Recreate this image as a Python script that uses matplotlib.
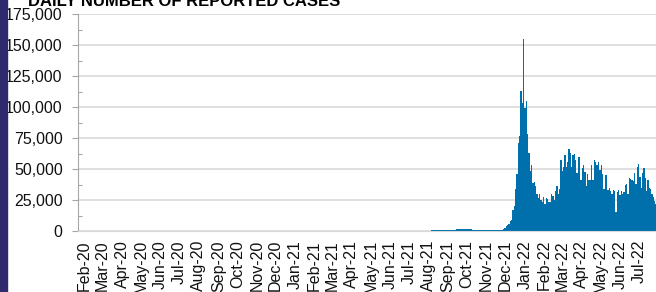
"""
Daily number of reported cases, recreated as a bar chart.
"""
import pandas as pd
import matplotlib.pyplot as plt
import matplotlib.dates as mdates
from matplotlib.patches import Rectangle
from matplotlib.ticker import MultipleLocator, FuncFormatter

plt.rcParams['font.family'] = ['Liberation Sans', 'DejaVu Sans']

# reporting periods (about 51 hours each) starting early Aug 2021
first_period = '2021-08-04'
period_hours = 51

cases = [
    # Aug - Oct 2021
    500, 500, 500, 500, 500, 500,
    800, 900, 900, 1000, 900, 900, 1000, 900, 900, 1000, 1000, 900, 1000,
    1600, 1700, 1500, 1700, 1600, 1800, 1700, 1500, 1600, 1700, 1600, 1500,
    900, 900, 800,
    500, 500, 500,
    # Nov - Dec 2021
    500, 500, 500, 500, 500, 500, 500, 500, 500,
    1000, 500, 500,
    1000, 1100, 1000, 900, 1000,
    2000, 2700, 3700, 4500, 5600, 8200, 9000, 17000, 20000, 33500,
    46000, 71000, 77000, 113000, 103000, 155000, 99000, 105000, 78000, 63000,
    # Jan - Feb 2022
    48000, 53000, 39000, 39500, 36000,
    29500, 27000, 30000, 25000, 23000, 27500, 22000, 27000, 25500, 23000,
    23500, 30000, 28000, 25000, 32000, 36500, 30000, 33500,
    # Mar - Apr 2022
    57000, 48000, 51500, 61000, 51500, 56000, 66000, 63000, 52000, 61000,
    62000, 57000, 47000, 60000, 60000, 41500, 51000, 53000, 47500, 36000,
    46000, 41500, 41500, 53500, 41500, 57000, 56000, 53000, 56000, 49500,
    53500, 46000, 33500, 45500, 45500,
    # May - Jul 2022
    33000, 35000, 32000, 29500, 32700, 32000, 15500, 31500, 33000, 29000,
    32000, 29500, 31500, 37500, 38000, 29500, 42500, 42000, 41000, 40000,
    46500, 38000, 51500, 54000, 43500, 35000, 47000, 51000, 43000, 32000,
    41000, 35000, 33500, 29500, 27500, 24000, 22000,
]

x_start = '2020-01-22'
x_end = '2022-07-28'

bar_color = '#0070ad'
grid_color = '#d9d9d9'
axis_color = '#a6a6a6'

periods = pd.date_range(first_period, periods=len(cases), freq=f'{period_hours}h')
width = pd.Timedelta(hours=period_hours)

fig = plt.figure(figsize=(6.56, 2.92), dpi=100)
ax = fig.add_axes([78 / 656, 61 / 292, 1 - 78 / 656, 217 / 292])

ax.bar(periods, cases, width=width, align='edge', color=bar_color, linewidth=0)

ax.set_xlim(pd.Timestamp(x_start), pd.Timestamp(x_end))
ax.set_ylim(0, 175000)

# y axis: majors every 25k, small minors in between
ax.yaxis.set_major_locator(MultipleLocator(25000))
ax.yaxis.set_minor_locator(MultipleLocator(12500))
ax.yaxis.set_major_formatter(FuncFormatter(lambda v, p: f'{v:,.0f}'))
ax.tick_params(axis='y', which='major', length=4, width=0.8, color=axis_color,
               pad=7, labelsize=11.5, labelcolor='#111111')
ax.tick_params(axis='y', which='minor', direction='in', length=3, width=0.8,
               color=axis_color)

# x axis: one label per month
ax.xaxis.set_major_locator(mdates.MonthLocator())
ax.xaxis.set_major_formatter(mdates.DateFormatter('%b-%y'))
ax.tick_params(axis='x', length=0, pad=6.5, labelsize=11.5, labelcolor='#111111')
plt.setp(ax.get_xticklabels(), rotation=90, va='top', ha='center')

ax.grid(True, axis='y', color=grid_color, linewidth=1.2)
ax.set_axisbelow(True)
for side in ('top', 'right'):
    ax.spines[side].set_visible(False)
ax.spines['left'].set_color(axis_color)
ax.spines['bottom'].set_color(grid_color)

# title sits partly above the canvas, as in the source image
fig.text(28 / 656, 1 - 6.5 / 292, 'DAILY NUMBER OF REPORTED CASES',
         fontsize=12, fontweight='bold', ha='left', va='baseline')

# dark side stripe
fig.patches.append(Rectangle((0, 0), 7 / 656, 1, transform=fig.transFigure,
                             color='#2e2a6c', zorder=0))

fig.savefig('out.png', dpi=100)
